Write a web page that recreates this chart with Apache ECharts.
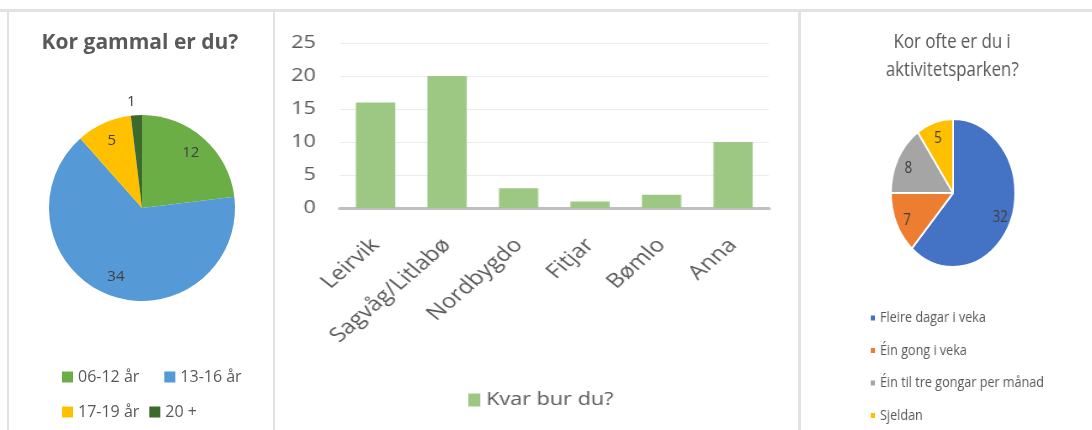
<!DOCTYPE html>
<html>
<head>
<meta charset="utf-8">
<script src="https://cdn.jsdelivr.net/npm/echarts@6/dist/echarts.min.js"></script>
<style>
  html, body { margin: 0; padding: 0; background: #fff; }
  #page { position: relative; width: 1092px; height: 430px; overflow: hidden; }
  .line { position: absolute; background: #e2e2e2; z-index: 5; }
  #age { position: absolute; left: 0; top: 0; width: 273px; height: 430px; }
  #placeWrap { position: absolute; left: 275px; top: 0; width: 523px; height: 430px; overflow: hidden; }
  #place { width: 436px; height: 430px; transform: scaleX(1.2); transform-origin: 0 0; }
  #freqWrap { position: absolute; left: 801px; top: 0; width: 291px; height: 430px; overflow: hidden; }
  #freq { width: 346px; height: 430px; transform: scaleX(0.84); transform-origin: 0 0; }
</style>
</head>
<body>
<div id="page">
  <div class="line" style="left:0;top:9px;width:1092px;height:3px"></div>
  <div class="line" style="left:7px;top:12px;width:2px;height:418px"></div>
  <div class="line" style="left:273px;top:12px;width:2px;height:418px"></div>
  <div class="line" style="left:798px;top:12px;width:3px;height:418px"></div>
  <div id="age"></div>
  <div id="placeWrap"><div id="place"></div></div>
  <div id="freqWrap"><div id="freq"></div></div>
</div>
<script>
// Kor gammal er du?
const ageNames = ['06-12 år', '13-16 år', '17-19 år', '20 +'];
const ageValues = [12, 34, 5, 1];
// Kvar bur du?
const placeNames = ['Leirvik', 'Sagvåg/Litlabø', 'Nordbygdo', 'Fitjar', 'Bømlo', 'Anna'];
const placeValues = [16, 20, 3, 1, 2, 10];
const yMin = 0, yMax = 25, yStep = 5;
// Kor ofte er du i aktivitetsparken?
const freqNames = ['Fleire dagar i veka', 'Éin gong i veka', 'Éin til tre gongar per månad', 'Sjeldan'];
const freqValues = [32, 7, 8, 5];

const FONT = '"Open Sans", "Noto Sans", sans-serif';
const txt = '#595959';

//venstre kake
let ageChart = echarts.init(document.getElementById('age'));
ageChart.setOption({
  animation: false,
  color: ['#6cae46', '#5599d6', '#ffc000', '#3b6a2c'],
  title: {
    text: 'Kor gammal er du?',
    left: 140, top: 30, textAlign: 'center', padding: 0,
    textStyle: { fontFamily: FONT, fontSize: 21, fontWeight: 'bold', color: txt, lineHeight: 26 }
  },
  legend: [{
    data: ageNames.slice(0, 2), left: 62, top: 368, itemGap: 25,
    itemWidth: 11, itemHeight: 11, icon: 'rect',
    textStyle: { fontFamily: FONT, fontSize: 16, color: txt, lineHeight: 18 }, padding: 0
  }, {
    data: ageNames.slice(2), left: 62, top: 403, itemGap: 10,
    itemWidth: 11, itemHeight: 11, icon: 'rect',
    textStyle: { fontFamily: FONT, fontSize: 16, color: txt, lineHeight: 18 }, padding: 0
  }],
  series: [{
    type: 'pie', center: [142, 208], radius: 93,
    label: { show: false }, labelLine: { show: false },
    data: ageNames.map((n, i) => ({ name: n, value: ageValues[i] }))
  }, {
    // bare for å plassere tala lenger ut i kaka
    type: 'pie', center: [142, 208], radius: [48, 93], silent: true,
    avoidLabelOverlap: false, legendHoverLink: false,
    itemStyle: { color: 'transparent' },
    label: { show: true, position: 'inside', formatter: '{c}', fontFamily: FONT, fontSize: 15, color: '#404040' },
    data: ageNames.map((n, i) => {
      let d = { name: n, value: ageValues[i] };
      if (ageValues[i] < 2) {
        d.label = { position: 'outside', distanceToLabelLine: 0 };
        d.labelLine = { show: false, length: 13, length2: 0 };
      }
      return d;
    })
  }]
});

//søylediagram
let placeChart = echarts.init(document.getElementById('place'));
placeChart.setOption({
  animation: false,
  grid: { left: 54, top: 43, width: 357.5, height: 165 },
  legend: {
    data: ['Kvar bur du?'], left: 161, top: 389, icon: 'rect',
    itemWidth: 10, itemHeight: 13, padding: 0,
    textStyle: { fontFamily: FONT, fontSize: 18, color: txt, lineHeight: 22 }
  },
  xAxis: {
    type: 'category', data: placeNames,
    axisLine: { lineStyle: { color: '#bfbfbf', width: 3 } },
    axisTick: { show: false },
    axisLabel: { rotate: 46, margin: 34, fontFamily: FONT, fontSize: 20, color: txt }
  },
  yAxis: {
    type: 'value', min: yMin, max: yMax, interval: yStep,
    axisLine: { show: false }, axisTick: { show: false },
    splitLine: { lineStyle: { color: '#ebebeb' } },
    axisLabel: { margin: 20, fontFamily: FONT, fontSize: 18, color: txt }
  },
  series: [{
    name: 'Kvar bur du?', type: 'bar', barWidth: '55%',
    itemStyle: { color: '#9dc884' },
    data: placeValues
  }]
});

//høgre kake
let freqChart = echarts.init(document.getElementById('freq'));
freqChart.setOption({
  animation: false,
  color: ['#4472c4', '#ed7d31', '#a5a5a5', '#ffc000'],
  title: {
    text: 'Kor ofte er du i\naktivitetsparken?',
    left: 180, top: 28, textAlign: 'center', padding: 0,
    textStyle: { fontFamily: FONT, fontSize: 20, fontWeight: 'normal', color: txt, lineHeight: 28 }
  },
  legend: {
    data: freqNames, orient: 'vertical', left: 81, top: 309, itemGap: 14.5,
    icon: 'rect', itemWidth: 7, itemHeight: 7, padding: 0,
    textStyle: { fontFamily: FONT, fontSize: 15, color: txt, lineHeight: 18 }
  },
  series: [{
    type: 'pie', center: [181, 193], radius: 74,
    itemStyle: { borderColor: '#fff', borderWidth: 2 },
    label: { show: false }, labelLine: { show: false },
    data: freqNames.map((n, i) => ({ name: n, value: freqValues[i] }))
  }, {
    type: 'pie', center: [181, 196], radius: [40, 74], silent: true,
    avoidLabelOverlap: false, legendHoverLink: false,
    itemStyle: { color: 'transparent' },
    label: { show: true, position: 'inside', formatter: '{c}', fontFamily: FONT, fontSize: 16, color: '#404040' },
    data: freqNames.map((n, i) => ({ name: n, value: freqValues[i] }))
  }]
});
</script>
</body>
</html>
